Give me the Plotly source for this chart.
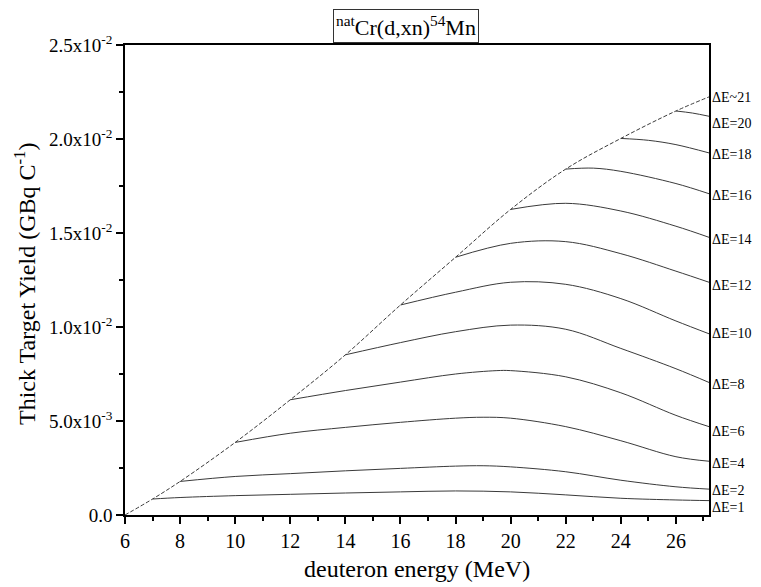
import plotly.graph_objects as go

# Envelope: thick target yield (dashed), GBq/C
env_E = [6, 7, 8, 10, 12, 14, 16, 18, 20, 22, 24, 26, 27.2]
env_Y = [0.0, 0.85e-3, 1.785e-3, 3.86e-3, 6.13e-3, 8.52e-3, 11.17e-3, 13.71e-3,
         16.255e-3, 18.40e-3, 20.03e-3, 21.49e-3, 22.24e-3]

# Yield curves for target thickness dE (MeV)
dE1_E = [7, 8, 10, 12, 14, 16, 18, 20, 22, 24, 26, 27.2]
dE1_Y = [0.85e-3, 0.93e-3, 1.03e-3, 1.10e-3, 1.17e-3, 1.23e-3, 1.28e-3, 1.23e-3,
         1.07e-3, 0.89e-3, 0.80e-3, 0.765e-3]
dE2_E = [8, 10, 12, 14, 16, 18, 19, 20, 22, 24, 26, 27.2]
dE2_Y = [1.785e-3, 2.05e-3, 2.20e-3, 2.35e-3, 2.48e-3, 2.60e-3, 2.62e-3, 2.56e-3,
         2.30e-3, 1.85e-3, 1.50e-3, 1.376e-3]
dE4_E = [10, 12, 14, 16, 18, 19, 20, 22, 24, 26, 27.2]
dE4_Y = [3.86e-3, 4.35e-3, 4.66e-3, 4.93e-3, 5.15e-3, 5.20e-3, 5.15e-3, 4.70e-3,
         3.95e-3, 3.10e-3, 2.86e-3]
dE6_E = [12, 14, 16, 18, 19.5, 20, 22, 24, 26, 27.2]
dE6_Y = [6.13e-3, 6.62e-3, 7.07e-3, 7.50e-3, 7.68e-3, 7.68e-3, 7.35e-3, 6.50e-3,
         5.30e-3, 4.70e-3]
dE8_E = [14, 16, 18, 20, 22, 24, 26, 27.2]
dE8_Y = [8.52e-3, 9.17e-3, 9.75e-3, 10.10e-3, 9.88e-3, 8.86e-3, 7.78e-3, 7.05e-3]
dE10_E = [16, 18, 20, 22, 24, 26, 27.2]
dE10_Y = [11.17e-3, 11.85e-3, 12.38e-3, 12.27e-3, 11.51e-3, 10.32e-3, 9.64e-3]
dE12_E = [18, 20, 22, 24, 26, 27.2]
dE12_Y = [13.71e-3, 14.45e-3, 14.54e-3, 13.90e-3, 12.97e-3, 12.38e-3]
dE14_E = [20, 22, 24, 26, 27.2]
dE14_Y = [16.255e-3, 16.58e-3, 16.17e-3, 15.36e-3, 14.77e-3]
dE16_E = [22, 23, 24, 26, 27.2]
dE16_Y = [18.40e-3, 18.45e-3, 18.28e-3, 17.63e-3, 17.09e-3]
dE18_E = [24, 25, 26, 27.2]
dE18_Y = [20.03e-3, 19.93e-3, 19.70e-3, 19.26e-3]
dE20_E = [26, 26.6, 27.2]
dE20_Y = [21.49e-3, 21.38e-3, 21.21e-3]

series = [
    ("\u0394E=1", dE1_E, dE1_Y, -7),
    ("\u0394E=2", dE2_E, dE2_Y, -1),
    ("\u0394E=4", dE4_E, dE4_Y, -2),
    ("\u0394E=6", dE6_E, dE6_Y, -5),
    ("\u0394E=8", dE8_E, dE8_Y, -2.5),
    ("\u0394E=10", dE10_E, dE10_Y, 0),
    ("\u0394E=12", dE12_E, dE12_Y, -3),
    ("\u0394E=14", dE14_E, dE14_Y, -2),
    ("\u0394E=16", dE16_E, dE16_Y, -1.5),
    ("\u0394E=18", dE18_E, dE18_Y, -2),
    ("\u0394E=20", dE20_E, dE20_Y, -7),
]

y_tickvals = [0, 0.005, 0.010, 0.015, 0.020, 0.025]
y_ticktext = ["0.0", "5.0x10<sup>-3</sup>", "1.0x10<sup>-2</sup>", "1.5x10<sup>-2</sup>",
              "2.0x10<sup>-2</sup>", "2.5x10<sup>-2</sup>"]
x_tickvals = [6, 8, 10, 12, 14, 16, 18, 20, 22, 24, 26]

FONT = "Liberation Serif, Times New Roman, serif"
LINE = "#3a3a3a"

fig = go.Figure()
fig.add_trace(go.Scatter(x=env_E, y=env_Y, mode="lines",
                         line=dict(color=LINE, width=1, dash="4px,2px", shape="spline"),
                         showlegend=False, hoverinfo="skip"))
for name, xs, ys, _ in series:
    fig.add_trace(go.Scatter(x=xs, y=ys, mode="lines",
                             line=dict(color=LINE, width=1, shape="spline", smoothing=1.0),
                             showlegend=False, name=name))

annotations = []
for name, xs, ys, shift in series:
    annotations.append(dict(x=1.0, xref="paper", y=ys[-1], yref="y", text=name,
                            showarrow=False, xanchor="left", yanchor="middle",
                            xshift=1, yshift=shift,
                            font=dict(family=FONT, size=14, color="black")))
annotations.append(dict(x=1.0, xref="paper", y=env_Y[-1], yref="y", text="\u0394E~21",
                        showarrow=False, xanchor="left", yanchor="middle",
                        xshift=1, yshift=-1,
                        font=dict(family=FONT, size=14, color="black")))
# chart title (boxed)
annotations.append(dict(x=0.481, xref="paper", y=1.0, yref="paper", yanchor="top",
                        yshift=36, text="<sup>nat</sup>Cr(d,xn)<sup>54</sup>Mn",
                        showarrow=False, bordercolor="#333333", borderwidth=1, borderpad=2,
                        font=dict(family=FONT, size=22, color="black")))
# axis titles
annotations.append(dict(x=0.5, xref="paper", y=0, yref="paper", yanchor="middle",
                        yshift=-54, text="deuteron energy (MeV)", showarrow=False,
                        font=dict(family=FONT, size=24, color="black")))
annotations.append(dict(x=0, xref="paper", y=0.5, yref="paper", xanchor="center",
                        yanchor="middle", xshift=-100, yshift=-4, textangle=-90,
                        text="Thick Target Yield (GBq C<sup>-1</sup>)", showarrow=False,
                        font=dict(family=FONT, size=24, color="black")))

fig.update_layout(
    width=753, height=579,
    margin=dict(l=116.5, r=52, t=36.7, b=71.7),
    paper_bgcolor="white", plot_bgcolor="white",
    font=dict(family=FONT, color="black"),
    annotations=annotations,
    showlegend=False,
)
fig.update_xaxes(range=[6, 27.2], tickvals=x_tickvals, ticks="outside", ticklen=7,
                 tickwidth=1.5, tickcolor="black", automargin=False,
                 minor=dict(dtick=1, tick0=6, ticks="outside", ticklen=4, tickwidth=1.5,
                            tickcolor="black"),
                 showline=True, linecolor="black", linewidth=1.5, mirror=True,
                 showgrid=False, zeroline=False,
                 tickfont=dict(family=FONT, size=20))
fig.update_yaxes(range=[0, 0.025], tickvals=y_tickvals, ticktext=y_ticktext,
                 ticks="outside", ticklen=7, tickwidth=1.5, tickcolor="black",
                 automargin=False,
                 minor=dict(dtick=0.0025, tick0=0, ticks="outside", ticklen=4, tickwidth=1.5,
                            tickcolor="black"),
                 showline=True, linecolor="black", linewidth=1.5, mirror=True,
                 showgrid=False, zeroline=False,
                 tickfont=dict(family=FONT, size=19))

fig.write_html("out.html")
